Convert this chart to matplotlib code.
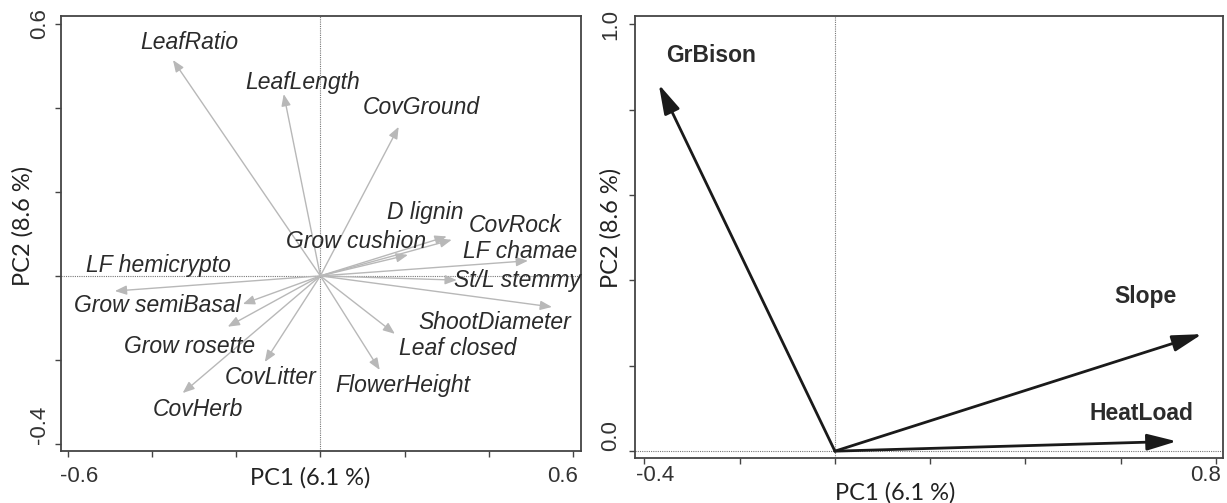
import matplotlib
matplotlib.use("Agg")
import matplotlib.pyplot as plt
import numpy as np
from matplotlib.transforms import ScaledTranslation

# trait loadings (PC1, PC2)
trait_names = ["LeafRatio", "LeafLength", "CovGround", "D lignin", "CovRock",
               "Grow cushion", "LF chamae", "St/L stemmy", "ShootDiameter",
               "Leaf closed", "FlowerHeight", "LF hemicrypto", "Grow semiBasal",
               "Grow rosette", "CovLitter", "CovHerb"]
trait_pc1 = [-0.350, -0.087, 0.186, 0.300, 0.312, 0.208, 0.493, 0.324, 0.550,
             0.177, 0.141, -0.488, -0.184, -0.220, -0.132, -0.327]
trait_pc2 = [0.514, 0.433, 0.355, 0.094, 0.086, 0.050, 0.036, -0.010, -0.074,
             -0.138, -0.224, -0.036, -0.067, -0.121, -0.205, -0.279]
# where each trait name sits
trait_lab_x = [-0.310, -0.043, 0.239, 0.250, 0.462, 0.085, 0.474, 0.467, 0.415,
               0.325, 0.196, -0.384, -0.388, -0.310, -0.118, -0.291]
trait_lab_y = [0.557, 0.460, 0.400, 0.150, 0.121, 0.081, 0.057, -0.010, -0.110,
               -0.174, -0.260, 0.024, -0.071, -0.169, -0.243, -0.319]

# environmental vectors
env_names = ["GrBison", "Slope", "HeatLoad"]
env_pc1 = [-0.370, 0.771, 0.718]
env_pc2 = [0.859, 0.274, 0.023]
env_lab_x = [-0.260, 0.653, 0.643]
env_lab_y = [0.927, 0.363, 0.089]

xlab = "PC1 (6.1 %)"
ylab = "PC2 (8.6 %)"

fig = plt.figure(figsize=(12.27, 5.03), dpi=100)
ax1 = fig.add_axes([0.0497, 0.1034, 0.4238, 0.8648])
ax2 = fig.add_axes([0.5175, 0.0895, 0.4792, 0.8787])

tick_font = dict(family="Liberation Sans", size=16, color="#333333")
lab_font = dict(family="Lato", size=17, color="#222222")


def setup(ax, xlim, ylim, xt, yt, ylab_x, xlab_pos, pad_x, pad_y):
    ax.set_xlim(xlim)
    ax.set_ylim(ylim)
    for s in ax.spines.values():
        s.set_color("#444444")
        s.set_linewidth(1.3)
    ax.axhline(0, color="#777777", lw=0.8, ls=(0, (1, 1)), zorder=1)
    ax.axvline(0, color="#777777", lw=0.8, ls=(0, (1, 1)), zorder=1)
    ax.set_xticks(xt)
    ax.set_yticks(yt)
    xl = [""] * len(xt)
    xl[0] = f"{xt[0]:.1f}"
    xl[-1] = f"{xt[-1]:.1f}"
    yl = [""] * len(yt)
    yl[0] = f"{yt[0]:.1f}"
    yl[-1] = f"{yt[-1]:.1f}"
    ax.set_xticklabels(xl, **tick_font)
    ax.set_yticklabels(yl, rotation=90, **tick_font)
    ax.tick_params(axis="x", length=4, width=1, color="#444444", pad=pad_x)
    ax.tick_params(axis="y", length=4, width=1, color="#444444", pad=pad_y)
    xls = ax.get_xticklabels()
    xls[0].set_ha("left")
    xls[-1].set_ha("right")
    xls[0].set_transform(xls[0].get_transform() + ScaledTranslation(-0.08, 0, fig.dpi_scale_trans))
    xls[-1].set_transform(xls[-1].get_transform() + ScaledTranslation(0.05, 0, fig.dpi_scale_trans))
    yls = ax.get_yticklabels()
    yls[0].set_va("bottom")
    yls[-1].set_va("center")
    ax.set_xlabel(xlab, **lab_font)
    ax.set_ylabel(ylab, **lab_font)
    ax.xaxis.set_label_coords(*xlab_pos)
    ax.xaxis.label.set_va("center")
    ax.yaxis.set_label_coords(ylab_x[0], ylab_x[1])
    ax.yaxis.label.set_va("center")


setup(ax1, (-0.616, 0.619), (-0.417, 0.619),
      [-0.6, -0.4, -0.2, 0.0, 0.2, 0.4, 0.6], [-0.4, -0.2, 0.0, 0.2, 0.4, 0.6],
      (-0.073, 0.517), (0.479, -0.062), 7, 4)
setup(ax2, (-0.420, 0.815), (-0.016, 1.019),
      [-0.4, -0.2, 0.0, 0.2, 0.4, 0.6, 0.8], [0.0, 0.2, 0.4, 0.6, 0.8, 1.0],
      (-0.041, 0.520), (0.442, -0.079), 1, 6)

# trait arrows
for name, x, y, lx, ly in zip(trait_names, trait_pc1, trait_pc2, trait_lab_x, trait_lab_y):
    ax1.annotate("", xy=(x, y), xytext=(0, 0),
                 arrowprops=dict(arrowstyle="-|>,head_length=0.5,head_width=0.2",
                                 color="#b8b8b8", lw=1.0, shrinkA=0, shrinkB=0,
                                 mutation_scale=14), zorder=2)
    ax1.text(lx, ly, name, ha="center", va="center", style="italic",
             family="Liberation Sans", size=16.5, color="#2b2b2b", zorder=3)

# environmental arrows
for name, x, y, lx, ly in zip(env_names, env_pc1, env_pc2, env_lab_x, env_lab_y):
    ax2.annotate("", xy=(x, y), xytext=(0, 0),
                 arrowprops=dict(arrowstyle="-|>,head_length=0.9,head_width=0.25",
                                 color="#1a1a1a", lw=2.0, shrinkA=0, shrinkB=0,
                                 mutation_scale=20), zorder=2)
    ax2.text(lx, ly, name, ha="center", va="center", weight="bold",
             family="Liberation Sans", size=16.5, color="#2b2b2b", zorder=3)

fig.savefig("out.png", dpi=100)
